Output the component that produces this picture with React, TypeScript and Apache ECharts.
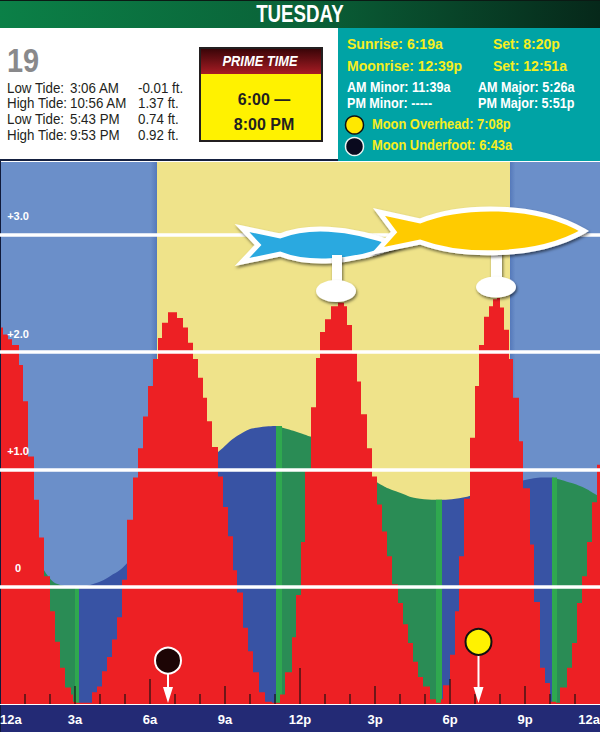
import React, { useEffect, useRef } from "react";
import * as echarts from "echarts";

const SANS = '"Liberation Sans", Arial, sans-serif';

const dayTitle = "TUESDAY";
const dateNumber = "19";
const tideRows = [
  ["Low Tide:", "3:06 AM", "-0.01 ft."],
  ["High Tide:", "10:56 AM", "1.37 ft."],
  ["Low Tide:", "5:43 PM", "0.74 ft."],
  ["High Tide:", "9:53 PM", "0.92 ft."],
];
const primeTitle = "PRIME TIME";
const primeLines = ["6:00 —", "8:00 PM"];
const sunMoonRows = [
  ["Sunrise: 6:19a", "Set: 8:20p"],
  ["Moonrise: 12:39p", "Set: 12:51a"],
];
const minorMajorRows = [
  ["AM Minor: 11:39a", "AM Major: 5:26a"],
  ["PM Minor: -----", "PM Major: 5:51p"],
];
const moonRows = ["Moon Overhead: 7:08p", "Moon Underfoot: 6:43a"];

const hourLabels = ["12a", "3a", "6a", "9a", "12p", "3p", "6p", "9p", "12a"];
const feetLabels: Record<string, string> = { "0": "0", "1": "+1.0", "2": "+2.0", "3": "+3.0" };

// [start hour, end hour] of the sky bands
const nightBands = [[0, 6.28], [20.4, 24]];
const dayBands = [[6.28, 20.4]];

// tide height [hour, feet]
const tideFalling1 = [[0, 1.2], [1, 0.55], [1.5, 0.27], [2, 0.07], [2.5, 0.01], [3.16, -0.01]];
const tideRising1 = [[3.16, -0.01], [3.7, 0.02], [4.4, 0.09], [5.08, 0.2], [6, 0.47], [7, 0.78], [8, 1.02], [8.68, 1.14], [9.6, 1.3], [10.4, 1.36], [11.04, 1.37]];
const tideFalling2 = [[11.04, 1.37], [12, 1.31], [13, 1.22], [14, 1.07], [15.08, 0.89], [16, 0.8], [16.8, 0.75], [17.68, 0.74]];
const tideRising2 = [[17.68, 0.74], [18.52, 0.76], [19.5, 0.82], [20.5, 0.88], [21, 0.91], [21.88, 0.93], [22.08, 0.93]];
const tideFalling3 = [[22.08, 0.93], [22.68, 0.895], [23.3, 0.85], [23.88, 0.78], [24, 0.77]];
// [start hour, end hour, feet]
const turnStrips = [[3.0, 3.16, -0.01], [11.04, 11.28, 1.37], [17.44, 17.68, 0.74], [22.08, 22.28, 0.93]];

// solunar activity staircase [hour, feet]
const activitySteps = [
  [0, 2.21], [0.12, 2.15], [0.32, 2.11], [0.48, 2.06], [0.76, 1.89], [0.92, 1.58], [1.12, 1.11], [1.36, 0.74],
  [1.56, 0.42], [1.76, 0.09], [2, -0.21], [2.2, -0.47], [2.4, -0.69], [2.6, -0.86], [2.84, -0.92], [2.92, -0.98],
  [3.04, -0.99], [3.68, -0.9], [3.88, -0.85], [4.08, -0.72], [4.28, -0.6], [4.48, -0.45], [4.68, -0.26], [4.88, 0.06],
  [5.08, 0.57], [5.32, 0.93], [5.52, 1.18], [5.72, 1.45], [5.92, 1.71], [6.12, 1.94], [6.32, 2.12], [6.48, 2.25],
  [6.72, 2.34], [7.08, 2.29], [7.32, 2.21], [7.52, 2.08], [7.72, 1.94], [7.92, 1.78], [8.12, 1.61], [8.28, 1.41],
  [8.48, 1.19], [8.72, 0.94], [8.92, 0.68], [9.12, 0.43], [9.32, 0.14], [9.48, -0.05], [9.72, -0.35], [9.92, -0.55],
  [10.12, -0.73], [10.36, -0.9], [10.6, -0.98], [10.88, -0.99], [11.2, -0.92], [11.4, -0.73], [11.68, -0.43],
  [11.84, -0.07], [12.04, 0.38], [12.2, 1.0], [12.44, 1.53], [12.64, 1.95], [12.8, 2.17], [13, 2.28], [13.24, 2.39],
  [13.52, 2.42], [13.76, 2.39], [13.88, 2.23], [14.08, 1.99], [14.28, 1.75], [14.44, 1.47], [14.68, 1.18], [14.88, 0.94],
  [15.08, 0.7], [15.28, 0.47], [15.48, 0.26], [15.68, 0.02], [15.92, -0.14], [16.12, -0.32], [16.32, -0.48], [16.52, -0.64],
  [16.72, -0.77], [16.92, -0.85], [17.2, -0.96], [17.44, -0.99], [17.64, -0.96], [17.72, -0.84], [18, -0.58], [18.2, -0.21],
  [18.36, 0.26], [18.56, 0.75], [18.8, 1.27], [19, 1.71], [19.16, 2.06], [19.36, 2.3], [19.56, 2.39], [19.72, 2.45],
  [19.88, 2.46], [20, 2.38], [20.16, 2.19], [20.36, 1.94], [20.52, 1.61], [20.76, 1.24], [20.92, 0.84], [21.2, 0.36],
  [21.36, -0.13], [21.6, -0.69], [21.8, -0.82], [22, -0.98], [22.24, -0.99], [22.4, -0.86], [22.68, -0.69], [22.88, -0.48],
  [23.08, -0.14], [23.28, 0.09], [23.48, 0.38], [23.68, 0.72], [23.88, 1.04], [24, 1.04],
];

// [hour, feet at top of tick]
const hourTicks = [
  [1, -0.915], [2, -0.915], [3, -0.847], [4, -0.915], [5, -0.915], [6, -0.787], [7, -0.915], [8, -0.915], [9, -0.847],
  [10, -0.915], [11, -0.915], [12, -0.693], [13, -0.915], [14, -0.915], [15, -0.847], [16, -0.915], [17, -0.915],
  [18, -0.787], [19, -0.915], [20, -0.915], [21, -0.847], [22, -0.915], [23, -0.915],
];

// [hour, feet of disc centre, fill, stroke]
const moonMarkers: [number, number, string, string][] = [
  [6.72, -0.63, "#1d0505", "#ffffff"],
  [19.14, -0.47, "#fff200", "#111111"],
];

const COLORS = {
  nightSky: "#6b8fc9",
  daySky: "#efe38a",
  rising: "#3853a4",
  falling: "#2a8c55",
  strip: "#2fa84f",
  activity: "#ed2024",
  navy: "#232a75",
  teal: "#00a3a5",
  yellowText: "#f6ee1e",
};

const BLUE_FISH =
  "M242,228 L280,236 C305,226 345,225 398,245 C350,265 305,264 280,254 L242,262 L258,245 Z";
const GOLD_FISH =
  "M379,212 L420,221 C460,205 535,202 584,231 C535,259 460,257 420,242 L377,251 L394,232 Z";

echarts.graphic.registerShape("blueFish", echarts.graphic.extendPath(BLUE_FISH as any, {}) as any);
echarts.graphic.registerShape("goldFish", echarts.graphic.extendPath(GOLD_FISH as any, {}) as any);

const txt = (
  x: number,
  y: number,
  text: string,
  fill: string,
  fontSize: number,
  scaleX = 0.8,
  fontWeight = "bold",
  textAlign = "left",
  fontStyle = "normal",
) => ({
  type: "text",
  x,
  y,
  z: 50,
  scaleX,
  style: { text, fill, fontSize, fontWeight, fontStyle, fontFamily: SANS, textAlign, textVerticalAlign: "middle" },
});

const rect = (x: number, y: number, width: number, height: number, fill: any, z = 1, extra: any = {}) => ({
  type: "rect",
  x,
  y,
  z,
  shape: { x: 0, y: 0, width, height },
  style: { fill, ...extra },
});

const linear = (x2: number, y2: number, stops: [number, string][]) => ({
  type: "linear",
  x: 0,
  y: 0,
  x2,
  y2,
  colorStops: stops.map(([offset, color]) => ({ offset, color })),
});

const SHADOW = { shadowColor: "rgba(0,0,0,0.55)", shadowBlur: 3, shadowOffsetX: 1, shadowOffsetY: 2 };

const panelGraphics = () => {
  const out: any[] = [
    rect(0, 0, 600, 28, linear(1, 0, [[0, "#0b8047"], [0.5, "#0a6238"], [1, "#06281a"]]), 40),
    rect(0, 0, 600, 1, "#0b1a14", 41),
    txt(300, 14.5, dayTitle, "#ffffff", 24, 0.78, "bold", "center"),
    rect(0, 28, 338, 131, "#ffffff", 40),
    rect(338, 28, 262, 133, COLORS.teal, 40),
    rect(0, 159, 338, 2, "#15203f", 41),
    txt(7, 60, dateNumber, "#89898b", 34, 0.85),
    rect(199, 47, 124, 95, "#231f20", 41),
    rect(201, 49, 120, 25, linear(0, 1, [[0, "#3a0508"], [1, "#a81c24"]]), 42),
    rect(201, 74, 120, 66, "#fff200", 42),
    txt(260, 61.5, primeTitle, "#ffffff", 14, 0.92, "bold", "center", "italic"),
    txt(264, 99, primeLines[0], "#231f20", 16, 1, "bold", "center"),
    txt(264, 124, primeLines[1], "#231f20", 16, 1, "bold", "center"),
    rect(0, 704, 600, 28, COLORS.navy, 5),
    rect(0, 161, 1, 571, "#101a3a", 6),
  ];
  tideRows.forEach((row, i) => {
    const y = 87.5 + i * 15.7;
    [7, 70, 138].forEach((x, j) => out.push(txt(x, y, row[j], "#231f20", 14.5, 0.92, "normal")));
  });
  sunMoonRows.forEach((row, i) => {
    const y = 44 + i * 22;
    out.push(txt(347, y, row[0], COLORS.yellowText, 14, 1));
    out.push(txt(493, y, row[1], COLORS.yellowText, 14, 1));
  });
  minorMajorRows.forEach((row, i) => {
    const y = 87 + i * 16;
    out.push(txt(347, y, row[0], "#ffffff", 14, 0.9));
    out.push(txt(478, y, row[1], "#ffffff", 14, 0.9));
  });
  moonRows.forEach((row, i) => out.push(txt(372, 124.5 + i * 21, row, COLORS.yellowText, 14, 0.92)));
  out.push({ type: "circle", x: 354.5, y: 125, z: 42, shape: { cx: 0, cy: 0, r: 9 }, style: { fill: "#ffe800", stroke: "#111111", lineWidth: 1.5 } });
  out.push({ type: "circle", x: 354.5, y: 146.5, z: 42, shape: { cx: 0, cy: 0, r: 9 }, style: { fill: "#0a0a1e", stroke: "#e6f5f2", lineWidth: 1.5 } });

  // fish on stalks
  const fishStyle = { stroke: "#ffffff", lineWidth: 5, lineJoin: "miter", miterLimit: 6, ...SHADOW };
  out.push({ type: "blueFish", x: 0, y: 0, z: 20, style: { fill: "#29a9e0", ...fishStyle } });
  out.push(rect(332, 255, 10, 28, "#ffffff", 20, SHADOW));
  out.push({ type: "ellipse", x: 336, y: 291, z: 21, shape: { cx: 0, cy: 0, rx: 20, ry: 11 }, style: { fill: "#ffffff", ...SHADOW } });
  out.push(rect(491, 250, 11, 30, "#ffffff", 22, SHADOW));
  out.push({ type: "ellipse", x: 496, y: 287, z: 23, shape: { cx: 0, cy: 0, rx: 20, ry: 10.5 }, style: { fill: "#ffffff", ...SHADOW } });
  out.push({ type: "goldFish", x: 0, y: 0, z: 24, style: { fill: "#ffcb05", ...fishStyle } });
  return out;
};

const bandSeries = (bands: number[][], fill: any) => ({
  type: "custom",
  z: 1,
  silent: true,
  clip: true,
  data: bands,
  encode: { x: [0, 1] },
  renderItem: (_: any, api: any) => {
    const a = api.coord([api.value(0), 3.62]);
    const b = api.coord([api.value(1), -1]);
    return { type: "rect", shape: { x: a[0], y: a[1], width: b[0] - a[0], height: b[1] - a[1] }, style: { fill } };
  },
});

const tideSeries = (data: number[][], color: string) => ({
  type: "line",
  z: 2,
  data,
  smooth: 0.5,
  symbol: "none",
  silent: true,
  lineStyle: { width: 0 },
  areaStyle: { color, opacity: 1, origin: "start" },
});

function buildOption() {
  return {
    animation: false,
    backgroundColor: "#ffffff",
    grid: { left: 0, right: 0, top: 162, bottom: 28, containLabel: false, outerBoundsMode: "none" },
    xAxis: {
      type: "value",
      min: 0,
      max: 24,
      interval: 3,
      z: 10,
      splitLine: { show: false },
      axisTick: { show: false },
      axisLine: { show: true, onZero: false, lineStyle: { color: "#ffffff", width: 1 } },
      axisLabel: {
        color: "#ffffff",
        fontFamily: SANS,
        fontWeight: "bold",
        fontSize: 13,
        margin: 9,
        alignMinLabel: "left",
        alignMaxLabel: "right",
        formatter: (v: number) => hourLabels[v / 3],
      },
    },
    yAxis: {
      type: "value",
      min: -1,
      max: 3.62,
      interval: 1,
      z: 10,
      axisLine: { show: false },
      axisTick: { show: false },
      splitLine: { show: true, showMinLine: false, showMaxLine: false, lineStyle: { color: "#ffffff", width: 3.5, type: "solid" } },
      axisLabel: {
        inside: true,
        margin: 18,
        align: "center",
        verticalAlign: "bottom",
        padding: [0, 0, 13, 0],
        color: "#ffffff",
        fontFamily: SANS,
        fontWeight: "bold",
        fontSize: 11,
        formatter: (v: number) => feetLabels[String(v)] ?? "",
      },
    },
    graphic: { elements: panelGraphics() },
    series: [
      bandSeries(nightBands.slice(0, 1), linear(1, 0, [[0, COLORS.nightSky], [0.96, COLORS.nightSky], [1, "#5579ba"]])),
      bandSeries(nightBands.slice(1), linear(1, 0, [[0, "#5579ba"], [0.06, COLORS.nightSky], [1, COLORS.nightSky]])),
      bandSeries(dayBands, COLORS.daySky),
      tideSeries(tideFalling1, COLORS.falling),
      tideSeries(tideRising1, COLORS.rising),
      tideSeries(tideFalling2, COLORS.falling),
      tideSeries(tideRising2, COLORS.rising),
      tideSeries(tideFalling3, COLORS.falling),
      {
        type: "custom",
        z: 3,
        silent: true,
        data: turnStrips,
        encode: { x: [0, 1] },
        renderItem: (_: any, api: any) => {
          const a = api.coord([api.value(0), api.value(2)]);
          const b = api.coord([api.value(1), -1]);
          return { type: "rect", shape: { x: a[0], y: a[1], width: b[0] - a[0], height: b[1] - a[1] }, style: { fill: COLORS.strip } };
        },
      },
      {
        type: "line",
        z: 4,
        data: activitySteps,
        step: "end",
        symbol: "none",
        silent: true,
        lineStyle: { width: 0 },
        areaStyle: { color: COLORS.activity, opacity: 1, origin: "start" },
      },
      {
        type: "custom",
        z: 5,
        silent: true,
        data: hourTicks,
        encode: { x: 0, y: 1 },
        renderItem: (_: any, api: any) => {
          const a = api.coord([api.value(0), api.value(1)]);
          const b = api.coord([api.value(0), -1]);
          return { type: "line", shape: { x1: a[0], y1: a[1], x2: b[0], y2: b[1] }, style: { stroke: "#1a1111", lineWidth: 1.2 } };
        },
      },
      {
        type: "custom",
        z: 6,
        silent: true,
        data: moonMarkers.map((m) => m.slice(0, 2)),
        encode: { x: 0, y: 1 },
        renderItem: (params: any, api: any) => {
          const c = api.coord([api.value(0), api.value(1)]);
          const b = api.coord([api.value(0), -1]);
          const m = moonMarkers[params.dataIndex];
          return {
            type: "group",
            children: [
              { type: "line", shape: { x1: c[0], y1: c[1], x2: b[0], y2: b[1] - 6 }, style: { stroke: "#ffffff", lineWidth: 2 } },
              { type: "polygon", shape: { points: [[c[0] - 5, b[1] - 17], [c[0] + 5, b[1] - 17], [c[0], b[1] - 1]] }, style: { fill: "#ffffff" } },
              { type: "circle", shape: { cx: c[0], cy: c[1], r: 13 }, style: { fill: m[2], stroke: m[3], lineWidth: 2 } },
            ],
          };
        },
      },
    ],
  };
}

export default function App() {
  const ref = useRef<HTMLDivElement>(null);
  useEffect(() => {
    const chart = echarts.init(ref.current!, undefined, { renderer: "svg" });
    chart.setOption(buildOption() as any);
    return () => chart.dispose();
  }, []);
  return <div ref={ref} style={{ position: "absolute", left: 0, top: 0, width: 600, height: 732 }} />;
}
